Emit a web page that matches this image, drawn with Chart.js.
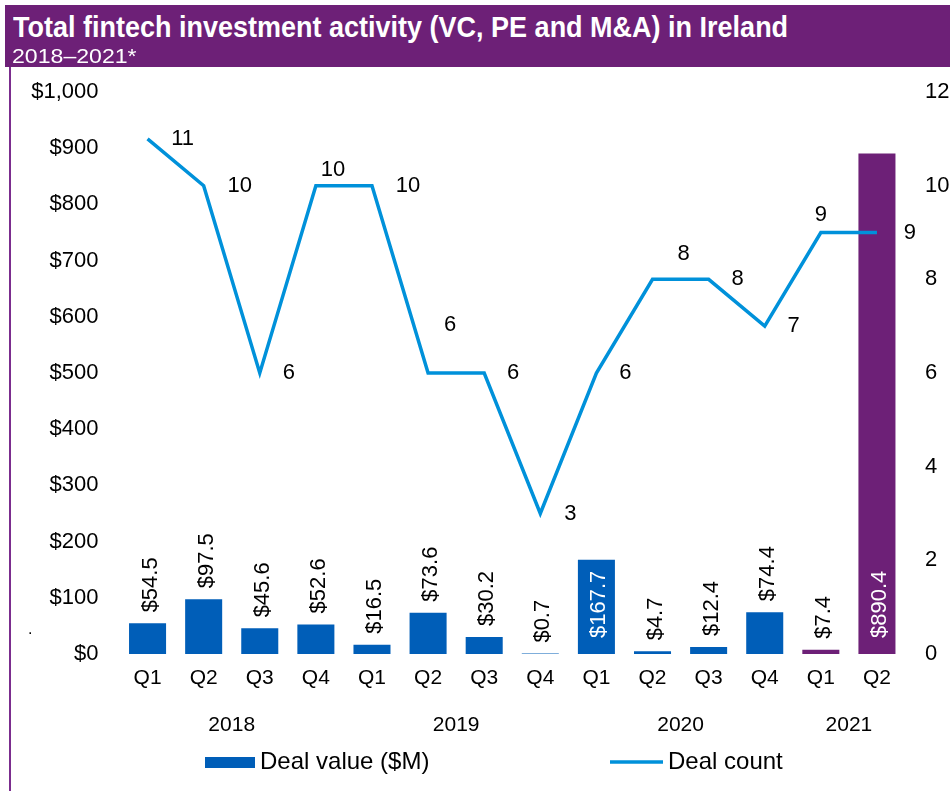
<!DOCTYPE html>
<html>
<head>
<meta charset="utf-8">
<script src="https://cdn.jsdelivr.net/npm/chart.js@4/dist/chart.umd.min.js"></script>
<style>
  html, body { margin: 0; padding: 0; background: #fff; }
  #wrap { position: relative; width: 950px; height: 791px; overflow: hidden; }
  #header {
    position: absolute; left: 5px; top: 5px; width: 945px; height: 62px;
    background: #6D2077; color: #fff;
    font-family: 'Liberation Sans Narrow', 'Arial Narrow', 'Liberation Sans', sans-serif;
  }
  #title { position: absolute; left: 8px; top: 6px; font-size: 27px; font-weight: bold; white-space: nowrap; transform: scaleY(1.08); transform-origin: left top; }
  #subtitle { position: absolute; left: 7px; top: 39px; font-size: 21px; white-space: nowrap; transform: scaleX(1.1); transform-origin: left top; }
  #leftRule { position: absolute; left: 9px; top: 67px; width: 2px; height: 724px; background: #7B2D8E; }
  #investmentChart { position: absolute; left: 0; top: 0; }
</style>
</head>
<body>
<div id="wrap">
  <canvas id="investmentChart" width="950" height="791"></canvas>
  <div id="header">
    <div id="title">Total fintech investment activity (VC, PE and M&amp;A) in Ireland</div>
    <div id="subtitle">2018–2021*</div>
  </div>
  <div id="leftRule"></div>
</div>
<script>
var quarters = ["Q1", "Q2", "Q3", "Q4", "Q1", "Q2", "Q3", "Q4", "Q1", "Q2", "Q3", "Q4", "Q1", "Q2"];
var years = ["2018", "2019", "2020", "2021"];
var yearSpans = [4, 4, 4, 2];
var dealValue = [54.5, 97.5, 45.6, 52.6, 16.5, 73.6, 30.2, 0.7, 167.7, 4.7, 12.4, 74.4, 7.4, 890.4];
var dealCount = [11, 10, 6, 10, 10, 6, 6, 3, 6, 8, 8, 7, 9, 9];

var BLUE = "#005EB8";
var PURPLE = "#6D2077";
var LIGHT_BLUE = "#0091DA";
var FONT = "'Liberation Sans', Arial, sans-serif";

// 2021 quarters are highlighted in purple
var barColors = dealValue.map(function (v, i) { return i >= 12 ? PURPLE : BLUE; });
// big bars carry their label inside, in white
var insideLabel = dealValue.map(function (v) { return v > 150; });
// where each deal-count label sits relative to its point
var countLabelDx = [35, 36, 29, 17, 36, 22, 29, 30, 29, 31, 29, 29, 0, 33];
var countLabelDy = [0, 0, 0, -16, 0, -48, 0, 0, 0, -25, 0, 0, -18, 0];

var labelsPlugin = {
    id: "valueLabels",
    afterDatasetsDraw: function (chart) {
        var ctx = chart.ctx;
        var barMeta = chart.getDatasetMeta(1);
        var lineMeta = chart.getDatasetMeta(0);
        var yScale = chart.scales.y;
        ctx.save();
        ctx.font = "22px " + FONT;

        // rotated bar labels
        barMeta.data.forEach(function (bar, i) {
            var text = "$" + dealValue[i].toFixed(1);
            ctx.save();
            if (insideLabel[i]) {
                ctx.translate(bar.x, yScale.getPixelForValue(0) - 16);
                ctx.fillStyle = "#fff";
            } else {
                ctx.translate(bar.x, bar.y - 11);
                ctx.fillStyle = "#000";
            }
            ctx.rotate(-Math.PI / 2);
            ctx.textAlign = "left";
            ctx.textBaseline = "alphabetic";
            ctx.fillText(text, 0, 9);
            ctx.restore();
        });

        // deal count labels
        ctx.fillStyle = "#000";
        ctx.textAlign = "center";
        ctx.textBaseline = "middle";
        lineMeta.data.forEach(function (pt, i) {
            ctx.fillText(String(dealCount[i]), pt.x + countLabelDx[i], pt.y + countLabelDy[i]);
        });

        // year labels under each group of quarters
        ctx.font = "21px " + FONT;
        var xScale = chart.scales.x;
        var start = 0;
        years.forEach(function (yr, k) {
            var end = start + yearSpans[k] - 1;
            var cx = (xScale.getPixelForValue(start) + xScale.getPixelForValue(end)) / 2;
            ctx.fillText(yr, cx, 725);
            start = end + 1;
        });

        // legend
        ctx.fillStyle = BLUE;
        ctx.fillRect(205, 757, 50, 11);
        ctx.strokeStyle = LIGHT_BLUE;
        ctx.lineWidth = 3.5;
        ctx.beginPath();
        ctx.moveTo(610, 762);
        ctx.lineTo(663, 762);
        ctx.stroke();
        ctx.fillStyle = "#000";
        ctx.textAlign = "left";
        ctx.font = "24px " + FONT;
        ctx.fillText("Deal value ($M)", 260, 762);
        ctx.fillText("Deal count", 668, 762);

        ctx.font = "16px " + FONT;
        ctx.fillText(".", 28, 630);
        ctx.restore();
    }
};

var chartElement = document.getElementById("investmentChart").getContext("2d");
var chartObject = new Chart(chartElement, {
    data: {
        labels: quarters,
        datasets: [{
            type: "line",
            label: "Deal count",
            data: dealCount,
            yAxisID: "y1",
            borderColor: LIGHT_BLUE,
            borderWidth: 3.5,
            pointRadius: 0,
            tension: 0,
            order: 0
        }, {
            type: "bar",
            label: "Deal value ($M)",
            data: dealValue,
            yAxisID: "y",
            backgroundColor: barColors,
            categoryPercentage: 1,
            barPercentage: 0.66,
            order: 1
        }]
    },
    options: {
        responsive: false,
        animation: false,
        events: [],
        layout: { padding: { top: 92, bottom: 0, left: 0, right: 0 } },
        plugins: {
            legend: { display: false },
            tooltip: { enabled: false }
        },
        scales: {
            x: {
                grid: { display: false, drawTicks: false },
                border: { display: false },
                ticks: { color: "#000", font: { family: FONT, size: 21 }, padding: 12, maxRotation: 0 },
                afterFit: function (scale) { scale.height = 137; }
            },
            y: {
                position: "left",
                min: 0,
                max: 1000,
                grid: { display: false, drawTicks: false },
                border: { display: false },
                ticks: {
                    stepSize: 100,
                    color: "#000",
                    font: { family: FONT, size: 22 },
                    padding: 21,
                    callback: function (v) { return "$" + v.toLocaleString("en-US"); }
                },
                afterFit: function (scale) { scale.width = 119.5; }
            },
            y1: {
                position: "right",
                min: 0,
                max: 12,
                grid: { display: false, drawTicks: false },
                border: { display: false },
                ticks: { stepSize: 2, color: "#000", font: { family: FONT, size: 22 }, padding: 20 },
                afterFit: function (scale) { scale.width = 45; }
            }
        }
    },
    plugins: [labelsPlugin]
});
</script>
</body>
</html>
